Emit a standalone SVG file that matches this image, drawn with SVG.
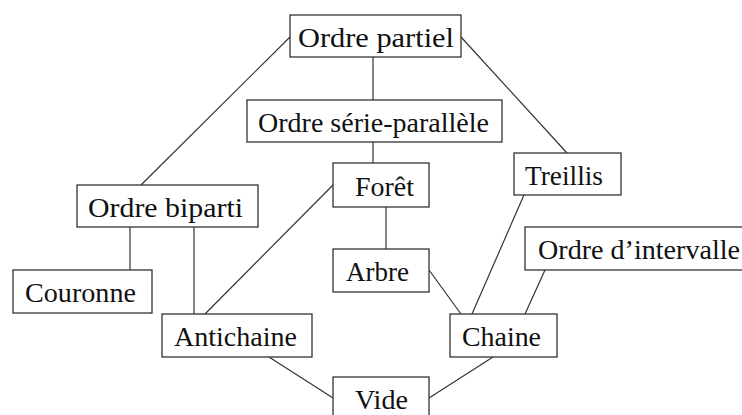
<svg xmlns="http://www.w3.org/2000/svg" width="742" height="415" viewBox="0 0 742 415">
<style>
  rect.n { fill: #ffffff; stroke: #333333; stroke-width: 1.3; }
  text { font-family: "Liberation Serif", "Times New Roman", serif; font-size: 27px; fill: #111111; }
  #edges line { stroke: #333333; stroke-width: 1.2; }
</style>
<rect width="742" height="415" fill="#ffffff"/>
<g id="edges">
  <line x1="373" y1="57" x2="373" y2="100"/>
  <line x1="290" y1="37" x2="141" y2="185"/>
  <line x1="461" y1="37" x2="567" y2="153"/>
  <line x1="373" y1="142" x2="373" y2="163"/>
  <line x1="333" y1="185" x2="205" y2="314"/>
  <line x1="386" y1="207" x2="386" y2="249"/>
  <line x1="130" y1="227" x2="130" y2="270"/>
  <line x1="194" y1="227" x2="194" y2="314"/>
  <line x1="429" y1="270" x2="461" y2="314"/>
  <line x1="524" y1="195" x2="472" y2="314"/>
  <line x1="545" y1="270" x2="525" y2="314"/>
  <line x1="269" y1="357" x2="333" y2="398"/>
  <line x1="493" y1="357" x2="429" y2="398"/>
</g>
<g id="ordre-partiel"><rect class="n" x="290" y="15" width="171" height="42"/><text x="298" y="47" textLength="156" lengthAdjust="spacingAndGlyphs">Ordre partiel</text></g>
<g id="serie-parallele"><rect class="n" x="247" y="100" width="255" height="42"/><text x="258" y="132" textLength="231" lengthAdjust="spacingAndGlyphs">Ordre série-parallèle</text></g>
<g id="treillis"><rect class="n" x="514" y="153" width="107" height="42"/><text x="525" y="185" textLength="78" lengthAdjust="spacingAndGlyphs">Treillis</text></g>
<g id="biparti"><rect class="n" x="77" y="185" width="181" height="42"/><text x="88" y="217" textLength="155" lengthAdjust="spacingAndGlyphs">Ordre biparti</text></g>
<g id="foret"><rect class="n" x="333" y="163" width="96" height="44"/><text x="355" y="196" textLength="59" lengthAdjust="spacingAndGlyphs">Forêt</text></g>
<g id="arbre"><rect class="n" x="333" y="249" width="96" height="43"/><text x="346" y="281" textLength="63" lengthAdjust="spacingAndGlyphs">Arbre</text></g>
<g id="intervalle"><rect class="n" x="525" y="227" width="232" height="43"/><text x="538" y="259" textLength="202" lengthAdjust="spacingAndGlyphs">Ordre d’intervalle</text></g>
<g id="couronne"><rect class="n" x="13" y="270" width="139" height="43"/><text x="25" y="302" textLength="111" lengthAdjust="spacingAndGlyphs">Couronne</text></g>
<g id="antichaine"><rect class="n" x="162" y="314" width="150" height="43"/><text x="174" y="346" textLength="123" lengthAdjust="spacingAndGlyphs">Antichaine</text></g>
<g id="chaine"><rect class="n" x="450" y="314" width="107" height="43"/><text x="462" y="346" textLength="79" lengthAdjust="spacingAndGlyphs">Chaine</text></g>
<g id="vide"><rect class="n" x="333" y="377" width="96" height="43"/><text x="355" y="409" textLength="53" lengthAdjust="spacingAndGlyphs">Vide</text></g>
</svg>
